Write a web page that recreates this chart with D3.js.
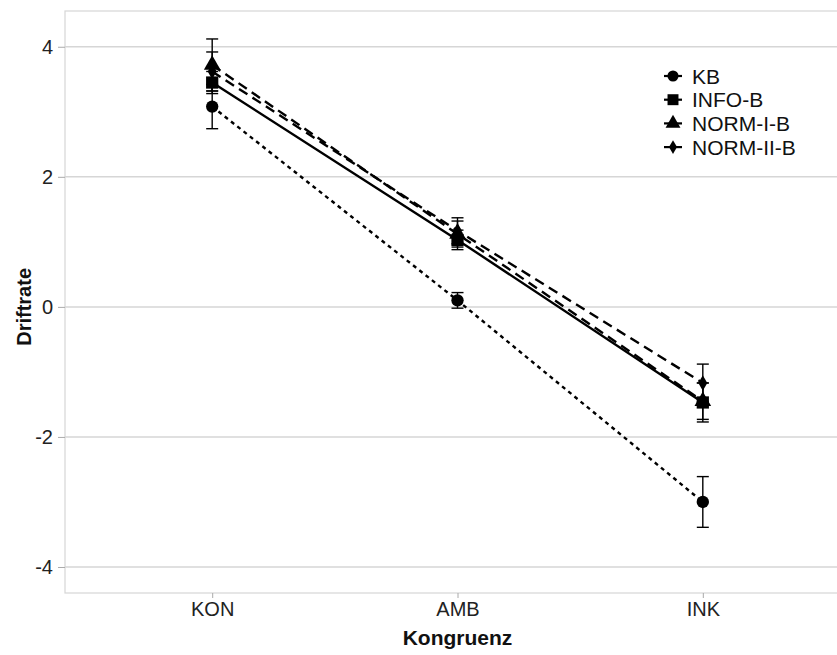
<!DOCTYPE html>
<html>
<head>
<meta charset="utf-8">
<script src="https://cdn.jsdelivr.net/npm/d3@7/dist/d3.min.js"></script>
<style>
  body { margin: 0; background: #fff; }
  svg { display: block; font-family: "Liberation Sans", Arial, sans-serif; }
</style>
</head>
<body>
<svg id="chart" width="837" height="655"></svg>
<script>
// Conditions on the x axis
const categories = ["KON", "AMB", "INK"];
// Group names (legend order)
const groups = ["KB", "INFO-B", "NORM-I-B", "NORM-II-B"];
// Mean drift rate per group, in category order
const meanKB      = [3.08, 0.10, -3.00];
const meanINFO    = [3.45, 1.03, -1.47];
const meanNORMI   = [3.72, 1.12, -1.45];
const meanNORMII  = [3.62, 1.17, -1.17];
// Error bar half-widths per group
const errKB       = [0.34, 0.12, 0.39];
const errINFO     = [0.17, 0.15, 0.30];
const errNORMI    = [0.40, 0.20, 0.28];
const errNORMII   = [0.30, 0.20, 0.29];
// Y tick values and their labels
const yTicks = [-4, -2, 0, 2, 4];
const yTickLabels = ["-4", "-2", "0", "2", "4"];

const series = [
  { name: groups[0], mean: meanKB,     err: errKB,     shape: d3.symbolCircle,   size: 120, dash: "4,4" },
  { name: groups[1], mean: meanINFO,   err: errINFO,   shape: d3.symbolSquare,   size: 150, dash: null },
  { name: groups[2], mean: meanNORMI,  err: errNORMI,  shape: d3.symbolTriangle, size: 120, dash: "10,6" },
  { name: groups[3], mean: meanNORMII, err: errNORMII, shape: d3.symbolDiamond,  size: 70,  dash: "10,6" }
];

const svg = d3.select("#chart");
const panel = { left: 65, top: 11, right: 850, bottom: 593 };

// Discrete x positions with 0.6 category-width padding each side
const step = (panel.right - panel.left) / (categories.length - 1 + 1.2);
const x = d3.scalePoint().domain(categories)
  .range([panel.left + 0.6 * step, panel.right - 0.6 * step]);
const y = d3.scaleLinear().domain([-4.4, 4.55]).range([panel.bottom, panel.top]);

const gridColor = "#d6d6d6";
const font = "Liberation Sans, Arial, sans-serif";

// Panel background and horizontal grid
svg.append("rect")
  .attr("x", panel.left).attr("y", panel.top)
  .attr("width", panel.right - panel.left).attr("height", panel.bottom - panel.top)
  .attr("fill", "#fff").attr("stroke", gridColor).attr("stroke-width", 1.2);

svg.append("g").selectAll("line").data(yTicks).join("line")
  .attr("x1", panel.left).attr("x2", panel.right)
  .attr("y1", d => y(d)).attr("y2", d => y(d))
  .attr("stroke", gridColor).attr("stroke-width", 1.5);

// Y axis
const yAxis = svg.append("g").attr("transform", `translate(${panel.left},0)`)
  .call(d3.axisLeft(y).tickValues(yTicks).tickSize(7).tickPadding(5)
    .tickFormat((d, i) => yTickLabels[i]));
yAxis.select(".domain").remove();
yAxis.attr("font-size", 20).attr("font-family", font);
yAxis.selectAll(".tick line").attr("stroke", "#aaa").attr("stroke-width", 1);
yAxis.selectAll(".tick text").attr("fill", "#222");

// X axis
const xAxis = svg.append("g").attr("transform", `translate(0,${panel.bottom})`)
  .call(d3.axisBottom(x).tickSize(5).tickPadding(4));
xAxis.select(".domain").remove();
xAxis.attr("font-size", 20).attr("font-family", font);
xAxis.selectAll(".tick line").attr("stroke", "#aaa").attr("stroke-width", 1);
xAxis.selectAll(".tick text").attr("fill", "#222");

// Axis titles
svg.append("text").attr("x", x("AMB")).attr("y", 645)
  .attr("text-anchor", "middle").attr("font-size", 21).attr("font-weight", "bold")
  .attr("fill", "#111").text("Kongruenz");
svg.append("text").attr("transform", `translate(31,${y(0)}) rotate(-90)`)
  .attr("text-anchor", "middle").attr("font-size", 20).attr("font-weight", "bold")
  .attr("fill", "#111").text("Driftrate");

const plot = svg.append("g");
const line = d3.line().x((d, i) => x(categories[i])).y(d => y(d));

// Lines
series.forEach(s => {
  plot.append("path").datum(s.mean)
    .attr("d", line).attr("fill", "none").attr("stroke", "#000")
    .attr("stroke-width", 2.4)
    .attr("stroke-dasharray", s.dash);
});

// Error bars
const cap = 6;
series.forEach(s => {
  const g = plot.append("g").attr("stroke", "#000").attr("stroke-width", 1.4);
  s.mean.forEach((m, i) => {
    const cx = x(categories[i]);
    const lo = y(m - s.err[i]), hi = y(m + s.err[i]);
    g.append("line").attr("x1", cx).attr("x2", cx).attr("y1", lo).attr("y2", hi);
    g.append("line").attr("x1", cx - cap).attr("x2", cx + cap).attr("y1", lo).attr("y2", lo);
    g.append("line").attr("x1", cx - cap).attr("x2", cx + cap).attr("y1", hi).attr("y2", hi);
  });
});

// Points
series.forEach(s => {
  plot.append("g").selectAll("path").data(s.mean).join("path")
    .attr("transform", (d, i) => `translate(${x(categories[i])},${y(d)})`)
    .attr("d", d3.symbol().type(s.shape).size(s.size))
    .attr("fill", "#000");
});

// Legend
const legend = svg.append("g").attr("transform", "translate(673,76)");
series.forEach((s, i) => {
  const g = legend.append("g").attr("transform", `translate(0,${i * 23.7})`);
  g.append("line").attr("x1", -9).attr("x2", 9).attr("y1", 0).attr("y2", 0)
    .attr("stroke", "#000").attr("stroke-width", 2.2);
  g.append("path").attr("d", d3.symbol().type(s.shape).size(s.size * 0.8)).attr("fill", "#000");
  g.append("text").attr("x", 19).attr("y", 0).attr("dy", "0.36em")
    .attr("font-size", 21).attr("fill", "#111").attr("font-family", font).text(s.name);
});
</script>
</body>
</html>
